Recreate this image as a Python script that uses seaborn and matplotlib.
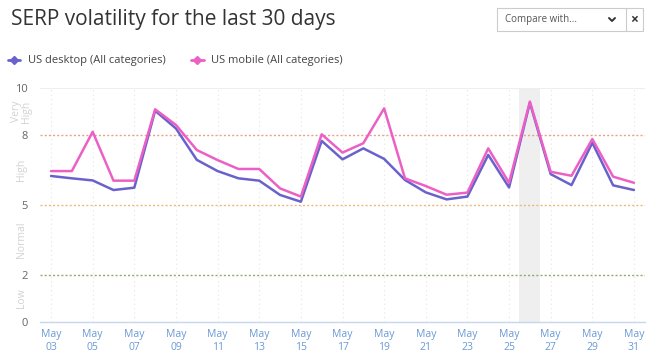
import pandas as pd
import matplotlib.pyplot as plt
import seaborn as sns
from matplotlib.lines import Line2D
from matplotlib.patches import Rectangle
from matplotlib.transforms import blended_transform_factory

# ==== DATA ====
days = list(range(3, 32))
desktop = [6.24, 6.14, 6.05, 5.64, 5.74, 9.03, 8.27, 6.93, 6.45, 6.14, 6.04, 5.43, 5.14,
           7.74, 6.95, 7.42, 6.97, 6.07, 5.54, 5.24, 5.36, 7.14, 5.75, 9.37, 6.32, 5.85,
           7.66, 5.84, 5.64]
mobile = [6.45, 6.45, 8.13, 6.04, 6.04, 9.09, 8.42, 7.35, 6.92, 6.54, 6.54, 5.71, 5.36,
          8.02, 7.24, 7.64, 9.13, 6.14, 5.81, 5.44, 5.53, 7.42, 5.95, 9.42, 6.42, 6.25,
          7.82, 6.21, 5.95]
series_names = ["US desktop (All categories)", "US mobile (All categories)"]
tick_days = list(range(3, 32, 2))
tick_labels = [f"May\n{d:02d}" for d in tick_days]
y_ticks = [0, 2, 5, 8, 10]
thresholds = [8, 5, 2]
bands = [("Very\nHigh", 9), ("High", 6.5), ("Normal", 3.5), ("Low", 1)]
highlight_day = 26

df = pd.DataFrame({
    "day": days * 2,
    "value": desktop + mobile,
    "series": [series_names[0]] * len(days) + [series_names[1]] * len(days),
})

# ==== STYLE ====
sns.set_style("white")
plt.rcParams['font.family'] = ['Open Sans', 'DejaVu Sans']
colors = {series_names[0]: "#6a62cc", series_names[1]: "#ec60c6"}
thr_colors = ["#e9a383", "#eab87a", "#92a870"]

fig = plt.figure(figsize=(6.6, 3.6), dpi=100)
ax = fig.add_axes([40 / 660, 38 / 360, 605 / 660, 234 / 360])

# ==== BACKGROUND ====
ax.axvspan(highlight_day - 0.5, highlight_day + 0.5, color="#efefef", zorder=0, lw=0)
for d in tick_days:
    ax.axvline(d, color="#e4e4e4", lw=0.8, ls=(0, (1, 3)), zorder=0.5)
ax.axhline(10, color="#eeeeee", lw=0.8, zorder=0.5)
for t, c in zip(thresholds, thr_colors):
    ax.axhline(t, color=c, lw=1, ls=(0, (1.5, 1.5)), zorder=1)

# ==== LINES ====
sns.lineplot(data=df, x="day", y="value", hue="series", palette=colors,
             linewidth=1.8, legend=False, ax=ax, zorder=3)

ax.set_xlim(2.47, 31.53)
ax.set_ylim(0, 10)
ax.set_xticks(tick_days)
ax.set_xticklabels(tick_labels)
ax.set_yticks(y_ticks)
ax.set_xlabel("")
ax.set_ylabel("")
ax.tick_params(axis="x", colors="#6a9ad6", labelsize=7.5, length=4, width=0.8,
               color="#c5d6ee", pad=1)
ax.tick_params(axis="y", colors="#666666", labelsize=8, length=0, pad=9)
for s in ["top", "right", "left"]:
    ax.spines[s].set_visible(False)
ax.spines["bottom"].set_color("#c5d6ee")
ax.spines["bottom"].set_linewidth(1)

# band labels
trans = blended_transform_factory(ax.transAxes, ax.transData)
for label, y in bands:
    ax.text(-0.03, y, label, transform=trans, rotation=90, ha="center", va="center",
            color="#d2d2d2", fontsize=7.5, linespacing=0.9)

# ==== TITLE / LEGEND ====
fig.text(11 / 660, 1 - 20 / 360, "SERP volatility for the last 30 days",
         fontsize=15, color="#333333", va="center", ha="left")
handles = [Line2D([], [], color=colors[n], lw=2, marker="D", markersize=4) for n in series_names]
fig.legend(handles, series_names, loc="center left", bbox_to_anchor=(-2 / 660, 1 - 61 / 360),
           ncol=2, frameon=False, fontsize=8, handlelength=1.1, columnspacing=2.3,
           handletextpad=0.7, labelcolor="#444444")

# compare box
fig.add_artist(Rectangle((497 / 660, 1 - 31 / 360), 146 / 660, 23 / 360,
                         transform=fig.transFigure, fill=False, ec="#cccccc", lw=0.8))
fig.add_artist(Line2D([626 / 660, 626 / 660], [1 - 31 / 360, 1 - 8 / 360],
                      transform=fig.transFigure, color="#cccccc", lw=0.8))
fig.text(505 / 660, 1 - 19.5 / 360, "Compare with...", fontsize=7, color="#555555",
         va="center", ha="left")
fig.add_artist(Line2D([609 / 660, 612 / 660, 615 / 660], [1 - 18 / 360, 1 - 21 / 360, 1 - 18 / 360],
                      transform=fig.transFigure, color="#333333", lw=1.4))
fig.text(634.5 / 660, 1 - 19.5 / 360, "×", fontsize=10, color="#333333",
         va="center", ha="center", fontweight="bold")

fig.savefig("out.png", dpi=100)
